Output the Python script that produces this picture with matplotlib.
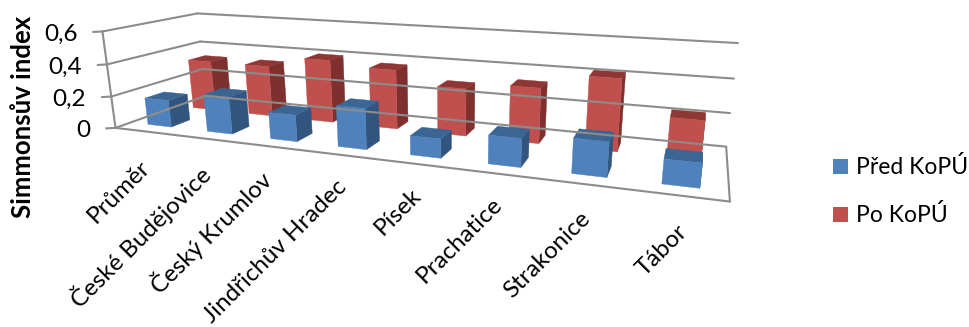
import numpy as np
import matplotlib
matplotlib.use("Agg")
import matplotlib.pyplot as plt
from matplotlib.patches import Polygon, Rectangle

categories = ["Průměr", "České Budějovice", "Český Krumlov", "Jindřichův Hradec",
              "Písek", "Prachatice", "Strakonice", "Tábor"]
pred_kopu = [0.17, 0.23, 0.16, 0.24, 0.11, 0.16, 0.19, 0.13]
po_kopu = [0.33, 0.33, 0.40, 0.37, 0.29, 0.33, 0.42, 0.225]
y_ticks = [0, 0.2, 0.4, 0.6]
y_tick_labels = ["0", "0,2", "0,4", "0,6"]

plt.rcParams["font.family"] = ["Lato", "DejaVu Sans"]

GRID = "#8c8c8c"
BLUE = {"front": "#4f81bd", "side": "#31557f", "top": "#3b6593"}
RED = {"front": "#c0504d", "side": "#7e302e", "top": "#8e3734"}

# camera calibration: chart box corners (category, depth, value) -> pixels
box_3d = [(0, 0, 0), (0, 0, 0.2), (0, 0, 0.4), (0, 0, 0.6),
          (0, 2, 0), (0, 2, 0.2), (0, 2, 0.4), (0, 2, 0.6),
          (8, 2, 0), (8, 2, 0.2), (8, 2, 0.4), (8, 2, 0.6),
          (8, 0, 0)]
box_px = [(115, 127), (111, 96), (107, 65), (103, 32),
          (206, 97), (203, 69), (200, 41), (197, 13),
          (726, 146), (730, 113), (734, 79), (738, 43),
          (730, 202)]

# per-label offset of the category text from the floor edge, pixels
label_dx = [-6, -8, -13, -6, -6, -6, -6, -3]
label_dy = [25, 23, 20, 21, 20, 20, 24, 25]


def fit_camera(pts3, pts2):
    rows = []
    for (x, y, z), (u, v) in zip(pts3, pts2):
        rows.append([x, y, z, 1, 0, 0, 0, 0, -u * x, -u * y, -u * z, -u])
        rows.append([0, 0, 0, 0, x, y, z, 1, -v * x, -v * y, -v * z, -v])
    _, _, vt = np.linalg.svd(np.array(rows, dtype=float))
    return vt[-1].reshape(3, 4)


camera = fit_camera(box_3d, box_px)


def project(x, y, z):
    u, v, w = camera @ np.array([x, y, z, 1.0])
    return u / w, v / w


fig = plt.figure(figsize=(9.7, 3.27), dpi=100)
ax = fig.add_axes([0, 0, 1, 1])
ax.set_xlim(0, 970)
ax.set_ylim(327, 0)
ax.axis("off")


def line3d(a, b):
    pa, pb = project(*a), project(*b)
    ax.plot([pa[0], pb[0]], [pa[1], pb[1]], color=GRID, lw=1.5,
            solid_capstyle="round")


# walls and floor
n = len(categories)
for tick in y_ticks:
    line3d((0, 0, tick), (0, 2, tick))
    line3d((0, 2, tick), (n, 2, tick))
    pa = project(0, 0, tick)
    ax.plot([pa[0] - 9, pa[0]], [pa[1] + 0.5, pa[1]], color=GRID, lw=1.5)
line3d((0, 0, 0), (0, 0, y_ticks[-1]))
line3d((0, 0, 0), (n, 0, 0))
line3d((n, 0, 0), (n, 2, 0))


def draw_bar(i, depth, value, colors):
    x0, x1 = i + 0.3, i + 0.7
    y0, y1 = depth + 0.3, depth + 0.7
    faces = {
        "side": [(x1, y0, 0), (x1, y1, 0), (x1, y1, value), (x1, y0, value)],
        "top": [(x0, y0, value), (x1, y0, value), (x1, y1, value), (x0, y1, value)],
        "front": [(x0, y0, 0), (x1, y0, 0), (x1, y0, value), (x0, y0, value)],
    }
    for name, face in faces.items():
        ax.add_patch(Polygon([project(*p) for p in face], closed=True,
                             facecolor=colors[name], edgecolor=colors[name], lw=0.3))


for i, v in enumerate(po_kopu):
    draw_bar(i, 1, v, RED)
for i, v in enumerate(pred_kopu):
    draw_bar(i, 0, v, BLUE)

# value axis labels
for tick, label in zip(y_ticks, y_tick_labels):
    u, v = project(0, 0, tick)
    ax.text(u - 25, v + 9.5, label, ha="right", va="baseline", fontsize=17.5, color="black")

ax.text(23, 117, "Simmonsův index", rotation=90, ha="center", va="center",
        fontsize=18.5, fontweight="bold", color="black")

# category labels
for i, name in enumerate(categories):
    u, v = project(i + 0.5, 0, 0)
    ax.text(u + label_dx[i], v + label_dy[i], name, rotation=45,
            rotation_mode="anchor", ha="right", va="top", fontsize=17.4, color="black")

# legend
for y, color, label in [(159, BLUE["front"], "Před KoPÚ"), (207, RED["front"], "Po KoPÚ")]:
    ax.add_patch(Rectangle((833, y), 15, 15, facecolor=color, edgecolor="none"))
    ax.text(856, y + 7.5, label, ha="left", va="center", fontsize=16.5, color="black")

fig.savefig("out.png", dpi=100)
